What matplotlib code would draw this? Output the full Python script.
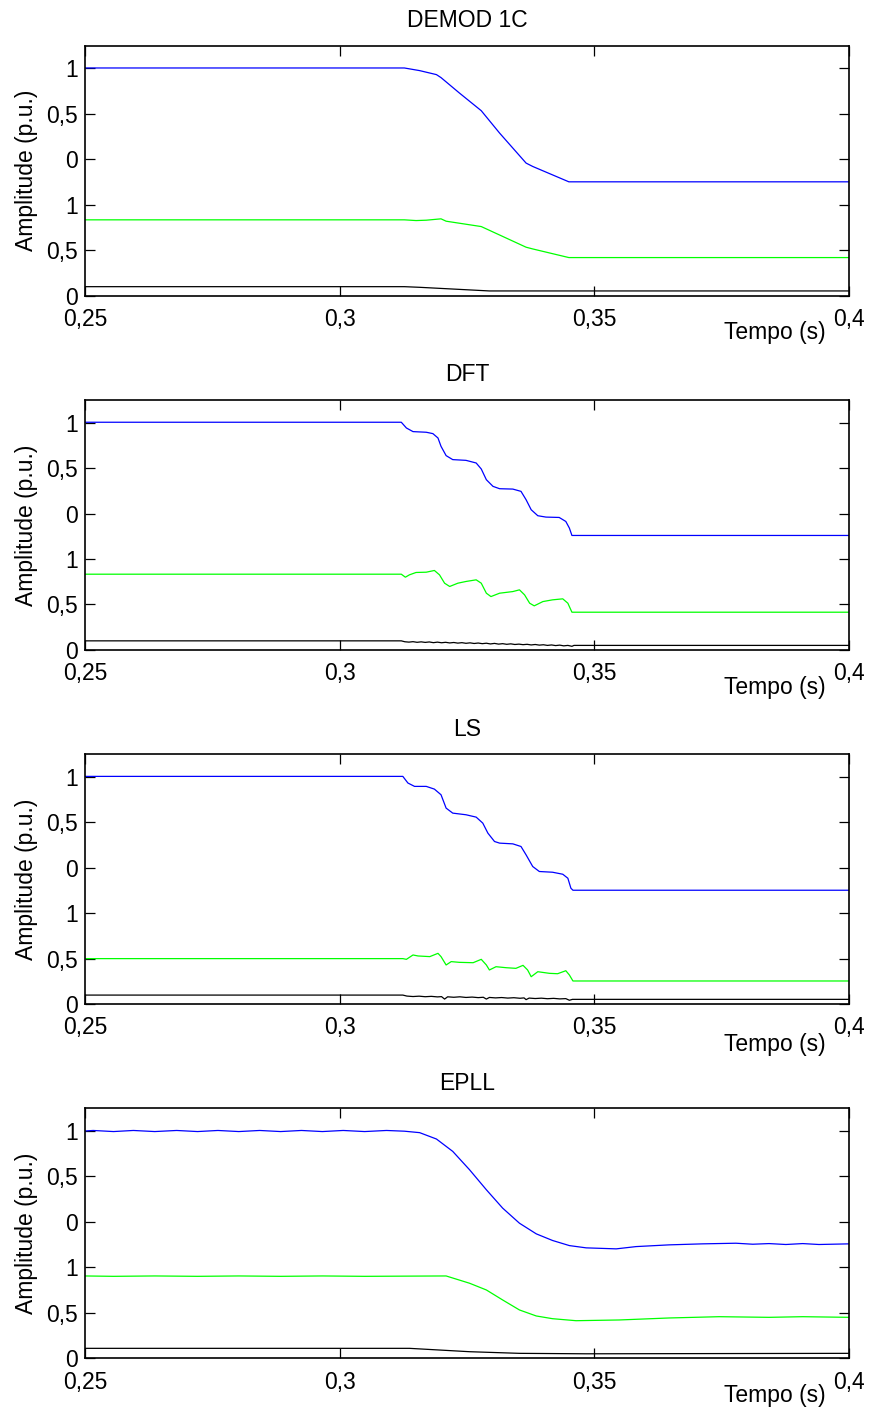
import matplotlib
matplotlib.use("Agg")
import matplotlib.pyplot as plt

plt.rcParams['font.family'] = ['Liberation Sans', 'DejaVu Sans']

titles = ['DEMOD 1C', 'DFT', 'LS', 'EPLL']
xticks = [0.25, 0.3, 0.35, 0.4]
xticklabels = ['0,25', '0,3', '0,35', '0,4']
yticks = [0, 0.5, 1, 1.5, 2, 2.5]
yticklabels = ['0', '0,5', '1', '0', '0,5', '1']

# DEMOD 1C
demod_blue_t = [0.25, 0.3127, 0.3157, 0.3190, 0.3199, 0.3235, 0.3278, 0.3314, 0.3366, 0.3379, 0.3450, 0.40]
demod_blue_v = [2.504, 2.504, 2.475, 2.431, 2.398, 2.229, 2.034, 1.788, 1.458, 1.421, 1.252, 1.252]
demod_green_t = [0.25, 0.3127, 0.3150, 0.3170, 0.3199, 0.3209, 0.3278, 0.3366, 0.3379, 0.3450, 0.40]
demod_green_v = [0.834, 0.834, 0.826, 0.830, 0.845, 0.819, 0.760, 0.533, 0.514, 0.419, 0.419]
demod_black_t = [0.25, 0.3127, 0.3157, 0.3294, 0.40]
demod_black_v = [0.099, 0.099, 0.092, 0.052, 0.052]

# DFT
dft_blue_t = [0.25, 0.3121, 0.3131, 0.3144, 0.3170, 0.3183, 0.3193, 0.3199, 0.3209, 0.3222, 0.3248,
              0.3268, 0.3278, 0.3288, 0.3301, 0.3314, 0.3340, 0.3356, 0.3366, 0.3376, 0.3389, 0.3405,
              0.3431, 0.3444, 0.3451, 0.3456, 0.40]
dft_blue_v = [2.504, 2.504, 2.441, 2.401, 2.394, 2.379, 2.331, 2.239, 2.137, 2.093, 2.085,
              2.056, 1.990, 1.872, 1.799, 1.773, 1.769, 1.744, 1.652, 1.542, 1.476, 1.461,
              1.457, 1.413, 1.340, 1.259, 1.259]
dft_green_t = [0.25, 0.3121, 0.3129, 0.3137, 0.3150, 0.3170, 0.3186, 0.3196, 0.3206, 0.3216, 0.3232,
               0.3248, 0.3268, 0.3278, 0.3288, 0.3297, 0.3314, 0.3340, 0.3353, 0.3363, 0.3373, 0.3382,
               0.3399, 0.3418, 0.3438, 0.3448, 0.3456, 0.40]
dft_green_v = [0.833, 0.833, 0.800, 0.826, 0.852, 0.855, 0.874, 0.826, 0.734, 0.698, 0.734,
               0.753, 0.771, 0.734, 0.624, 0.587, 0.624, 0.642, 0.661, 0.606, 0.514, 0.485,
               0.532, 0.551, 0.562, 0.514, 0.415, 0.415]
dft_black_t = [0.25, 0.3121, 0.3128, 0.3136, 0.3144, 0.3152, 0.3160, 0.3168, 0.3176, 0.3184, 0.3192,
               0.3200, 0.3208, 0.3216, 0.3224, 0.3232, 0.3240, 0.3248, 0.3256, 0.3264, 0.3272, 0.3280,
               0.3288, 0.3296, 0.3304, 0.3312, 0.3320, 0.3328, 0.3336, 0.3344, 0.3352, 0.3360, 0.3368,
               0.3376, 0.3384, 0.3392, 0.3400, 0.3408, 0.3416, 0.3424, 0.3432, 0.3440, 0.3448, 0.3456,
               0.3460, 0.40]
dft_black_v = [0.100, 0.100, 0.090, 0.086, 0.091, 0.084, 0.089, 0.083, 0.088, 0.080, 0.086,
               0.079, 0.084, 0.077, 0.082, 0.075, 0.080, 0.073, 0.078, 0.071, 0.076, 0.069,
               0.074, 0.066, 0.072, 0.064, 0.069, 0.062, 0.067, 0.060, 0.064, 0.058, 0.062,
               0.055, 0.060, 0.053, 0.057, 0.050, 0.055, 0.048, 0.053, 0.045, 0.050, 0.040,
               0.050, 0.050]

# LS
ls_blue_t = [0.25, 0.3124, 0.3134, 0.3147, 0.3170, 0.3186, 0.3199, 0.3209, 0.3222, 0.3248, 0.3268,
             0.3281, 0.3291, 0.3304, 0.3314, 0.3340, 0.3356, 0.3366, 0.3379, 0.3392, 0.3418, 0.3438,
             0.3448, 0.3454, 0.3458, 0.40]
ls_blue_v = [2.507, 2.507, 2.434, 2.397, 2.397, 2.367, 2.305, 2.158, 2.103, 2.085, 2.059,
             1.993, 1.883, 1.791, 1.773, 1.765, 1.736, 1.644, 1.516, 1.461, 1.453, 1.431,
             1.387, 1.277, 1.255, 1.255]
ls_green_t = [0.25, 0.3124, 0.3131, 0.3144, 0.3154, 0.3177, 0.3193, 0.3199, 0.3209, 0.3219, 0.3235,
              0.3262, 0.3278, 0.3288, 0.3294, 0.3307, 0.3327, 0.3346, 0.3360, 0.3369, 0.3376, 0.3389,
              0.3412, 0.3428, 0.3444, 0.3451, 0.3458, 0.40]
ls_green_v = [0.503, 0.503, 0.495, 0.543, 0.532, 0.525, 0.561, 0.525, 0.433, 0.470, 0.462,
              0.458, 0.495, 0.433, 0.378, 0.414, 0.403, 0.396, 0.429, 0.378, 0.304, 0.359,
              0.341, 0.337, 0.370, 0.323, 0.257, 0.257]
ls_black_t = [0.25, 0.3124, 0.3132, 0.3144, 0.3156, 0.3168, 0.3180, 0.3192, 0.3200, 0.3206, 0.3212,
              0.3224, 0.3236, 0.3248, 0.3260, 0.3272, 0.3282, 0.3288, 0.3294, 0.3306, 0.3318, 0.3330,
              0.3342, 0.3354, 0.3362, 0.3366, 0.3372, 0.3384, 0.3396, 0.3408, 0.3420, 0.3432, 0.3444,
              0.3451, 0.3457, 0.40]
ls_black_v = [0.102, 0.102, 0.091, 0.086, 0.090, 0.084, 0.088, 0.082, 0.085, 0.058, 0.083,
              0.078, 0.083, 0.076, 0.080, 0.074, 0.078, 0.058, 0.076, 0.071, 0.075, 0.069,
              0.073, 0.067, 0.071, 0.052, 0.069, 0.064, 0.068, 0.062, 0.066, 0.060, 0.063,
              0.045, 0.055, 0.055]

# EPLL
epll_blue_t = [0.25, 0.2516, 0.2556, 0.2595, 0.2637, 0.2680, 0.2721, 0.2761, 0.2802, 0.2843, 0.2884,
               0.2925, 0.2966, 0.3007, 0.3049, 0.3092, 0.3127, 0.3157, 0.3190, 0.3222, 0.3255,
               0.3288, 0.3320, 0.3353, 0.3386, 0.3418, 0.3451, 0.3484, 0.3543, 0.3582, 0.3647,
               0.3712, 0.3778, 0.3811, 0.3843, 0.3876, 0.3909, 0.3941, 0.40]
epll_blue_v = [2.500, 2.506, 2.494, 2.506, 2.494, 2.506, 2.494, 2.506, 2.494, 2.506, 2.494,
               2.506, 2.494, 2.506, 2.494, 2.506, 2.498, 2.482, 2.412, 2.276, 2.074,
               1.854, 1.652, 1.486, 1.369, 1.296, 1.240, 1.215, 1.204, 1.229, 1.248,
               1.259, 1.266, 1.255, 1.262, 1.252, 1.262, 1.252, 1.259]
epll_green_t = [0.25, 0.2556, 0.2637, 0.2721, 0.2802, 0.2884, 0.2966, 0.3049, 0.3127, 0.3209,
                0.3255, 0.3288, 0.3320, 0.3353, 0.3386, 0.3418, 0.3464, 0.3549, 0.3647, 0.3745,
                0.3843, 0.3909, 0.40]
epll_green_v = [0.906, 0.902, 0.906, 0.902, 0.906, 0.902, 0.906, 0.902, 0.904, 0.906,
                0.826, 0.752, 0.642, 0.532, 0.466, 0.436, 0.414, 0.422, 0.444, 0.458,
                0.451, 0.458, 0.451]
epll_black_t = [0.25, 0.3137, 0.3255, 0.3353, 0.3484, 0.40]
epll_black_v = [0.110, 0.110, 0.073, 0.055, 0.050, 0.055]

panels = [
    [(demod_blue_t, demod_blue_v), (demod_green_t, demod_green_v), (demod_black_t, demod_black_v)],
    [(dft_blue_t, dft_blue_v), (dft_green_t, dft_green_v), (dft_black_t, dft_black_v)],
    [(ls_blue_t, ls_blue_v), (ls_green_t, ls_green_v), (ls_black_t, ls_black_v)],
    [(epll_blue_t, epll_blue_v), (epll_green_t, epll_green_v), (epll_black_t, epll_black_v)],
]
colors = ['#0000ff', '#00ff00', '#000000']
bottoms = [0.7906, 0.5397, 0.2887, 0.0380]
xpads = [9.0, 8.5, 8.5, 9.0]
tempo_y = [-0.148, -0.152, -0.162, -0.148]

fig = plt.figure(figsize=(8.69, 14.12), dpi=100)

for i in range(4):
    ax = fig.add_axes([0.0978, bottoms[i], 0.8792, 0.1771])
    for (t, v), c in zip(panels[i], colors):
        ax.plot(t, v, color=c, linewidth=0.9)
    ax.set_xlim(0.25, 0.4)
    ax.set_ylim(0, 2.75)
    ax.set_xticks(xticks)
    ax.set_xticklabels(xticklabels)
    ax.set_yticks(yticks)
    ax.set_yticklabels(yticklabels)
    ax.tick_params(direction='in', length=7, width=0.9, labelsize=16.5,
                   top=True, right=True)
    ax.tick_params(axis='x', pad=xpads[i])
    ax.tick_params(axis='y', pad=5)
    for s in ax.spines.values():
        s.set_linewidth(1.2)
    ax.set_title(titles[i], fontsize=16.5, pad=13.5)
    ax.set_ylabel('Amplitude (p.u.)', fontsize=16.5, labelpad=6)
    ax.text(0.9025, tempo_y[i], 'Tempo (s)', transform=ax.transAxes,
            ha='center', va='center', fontsize=16.5)

fig.savefig('out.png', dpi=100)
